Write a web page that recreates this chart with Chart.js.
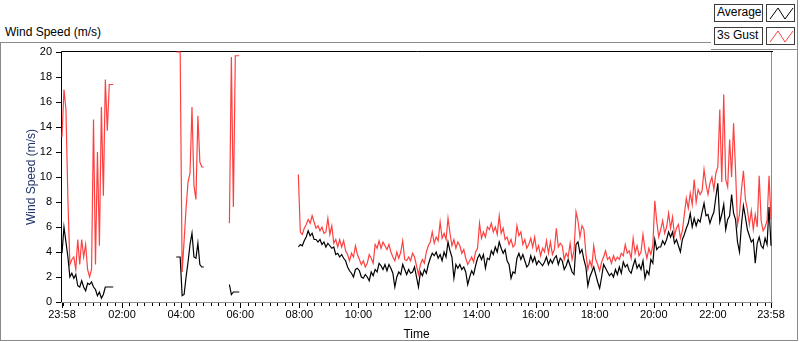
<!DOCTYPE html>
<html>
<head>
<meta charset="utf-8">
<title>Wind Speed (m/s)</title>
<script src="https://cdn.jsdelivr.net/npm/chart.js@4.4.1/dist/chart.umd.min.js"></script>
<style>
  body { margin: 0; background: #fff; font-family: "Liberation Sans", Arial, sans-serif; }
  #wrap { position: relative; width: 800px; height: 342px; overflow: hidden; }
  #frame { position: absolute; left: 0; top: 42px; width: 798px; height: 299px; border: 1px solid #8a8a8a; box-sizing: border-box; }
  #title { position: absolute; left: 5px; top: 25px; font-size: 12px; line-height: 14px; color: #000; }
  #chart { position: absolute; left: 0; top: 0; }
  #legend { position: absolute; left: 711px; top: 0; width: 87px; height: 50px; background: #fff;
            border-right: 1px solid #8a8a8a; border-bottom: 1px solid #8a8a8a; box-sizing: border-box; }
  .lbl, .sw { position: absolute; height: 18px; border: 1px solid #3c3c3c; box-sizing: border-box; background: #fff; }
  .lbl { left: 3px; width: 49px; font-size: 12px; line-height: 15px; padding-left: 2px; color: #000; }
  .sw { left: 55px; width: 29px; }
  .sw svg { display: block; }
</style>
</head>
<body>
<div id="wrap">
  <div id="frame"></div>
  <div id="title">Wind Speed (m/s)</div>
  <canvas id="chart" width="800" height="342"></canvas>
  <div id="legend">
    <div class="lbl" style="top:4px">Average</div>
    <div class="sw" style="top:4px"><svg width="27" height="16"><polyline points="3,14 11,3 18,14 26,3" fill="none" stroke="#000" stroke-width="1"/></svg></div>
    <div class="lbl" style="top:27px">3s Gust</div>
    <div class="sw" style="top:27px"><svg width="27" height="16"><polyline points="3,14 11,3 18,14 26,3" fill="none" stroke="#ff4040" stroke-width="1"/></svg></div>
  </div>
</div>
<script>
// minutes after 23:58 for the labelled ticks
var tickMinutes = [0, 122, 242, 362, 482, 602, 722, 842, 962, 1082, 1202, 1322, 1440];
var tickLabels = ["23:58", "02:00", "04:00", "06:00", "08:00", "10:00", "12:00",
                  "14:00", "16:00", "18:00", "20:00", "22:00", "23:58"];

// logger writes a sample every 4 minutes; the night runs have gaps between them
var sampleStep = 4;
var sampleCount = 361;
var runStarts = [0, 58, 85, 120];

var avgRun1 = [3.9, 6.0, 4.8, 3.6, 2.0, 2.3, 1.9, 2.2, 1.3, 1.2, 1.7, 1.2, 0.9, 1.5, 1.4, 1.6,
               1.2, 1.0, 0.5, 0.8, 0.3, 0.6, 1.2, 1.2, 1.2, 1.2, 1.2];
var avgRun2 = [3.6, 3.6, 3.6, 0.5, 0.6, 2.0, 3.2, 4.6, 5.5, 3.6, 3.5, 4.7, 3.0, 2.8, 2.8];
var avgRun3 = [1.4, 0.6, 0.8, 0.8, 0.8, 0.8];
var avgRun4 = [
  4.4, 4.6, 4.5, 4.9, 5.2, 5.7, 5.3, 5.5, 5.0, 5.0, 4.8, 5.0, 4.6, 4.8, 4.4, 4.7, 4.5, 4.3, 4.4, 3.8,
  3.9, 3.6, 3.8, 3.5, 3.3, 2.8, 2.5, 2.3, 2.0, 2.6, 2.7, 2.5, 2.0, 1.9, 2.2, 2.0, 1.7, 2.4, 2.1, 2.6,
  2.4, 3.1, 2.9, 2.6, 3.0, 2.5, 3.0, 2.7, 2.3, 1.2, 2.0, 2.4, 2.2, 3.0, 2.6, 2.2, 2.6, 2.3, 2.4, 2.8,
  2.0, 1.2,
  2.4, 2.1, 2.6, 2.3, 3.0, 3.5, 3.9, 3.7, 4.0, 3.5, 3.8, 3.3, 4.0, 3.6, 4.8, 4.1, 3.6, 1.9, 3.0, 2.7,
  3.0, 2.6, 2.8, 2.4, 1.4, 2.0, 2.5, 2.2, 2.9, 3.5, 3.8, 3.4, 3.8, 2.7, 3.5, 3.4, 4.1, 3.8, 4.4, 4.0,
  4.8, 4.3, 3.9, 4.2, 3.3, 3.0, 1.9, 2.4, 2.3, 3.5, 3.9, 3.4, 3.8, 3.3, 2.8, 3.0, 3.7, 3.2, 3.6, 3.0,
  3.3,
  3.1, 2.9, 3.2, 3.6, 3.0, 3.4, 3.1, 3.5, 3.7, 3.0, 3.5, 3.3, 2.6, 2.9, 3.4, 2.9, 2.4, 2.2, 4.6, 4.8,
  3.9, 4.2, 3.4, 2.8, 1.3, 2.0, 2.4, 2.8, 2.2, 1.6, 1.1, 2.0, 3.0, 2.7, 2.4, 2.1, 2.3, 2.0, 2.6, 2.2,
  2.8, 2.3, 3.2, 2.8, 3.0, 2.5, 2.3, 2.9, 3.4, 2.7, 3.0, 2.6, 3.3, 1.9, 2.5, 2.2, 3.4, 3.1, 5.0, 4.2,
  4.4,
  4.4, 4.9, 4.6, 5.0, 5.6, 5.2, 5.6, 4.7, 5.0, 4.5, 4.0, 5.0, 5.4, 5.9, 6.3, 7.1, 6.0, 6.7, 6.1, 6.6,
  6.4, 7.2, 7.9, 6.9, 7.0, 6.3, 6.8, 7.2, 8.4, 9.5, 6.4, 7.0, 7.8, 5.8, 6.6, 6.9, 8.6, 7.1, 6.6, 4.8,
  4.0, 6.2, 7.7, 6.8, 5.8, 5.3, 4.8, 5.0, 3.1, 4.7, 5.2, 4.5, 4.3, 5.1, 4.6, 7.6, 4.5
];

var gustRun1 = [13.2, 17.0, 15.4, 8.2, 3.0, 3.4, 3.6, 2.6, 5.0, 3.0, 5.0, 3.6, 4.6, 2.6, 2.0, 2.6,
                14.6, 3.0, 12.0, 4.5, 15.6, 8.5, 17.8, 13.7, 17.4, 17.4, 17.4];
var gustRun2 = [20, 20, 20, 2.4, 4.9, 7.5, 9.6, 10.3, 15.6, 9.3, 8.2, 14.9, 11.2, 10.8, 10.8];
var gustRun3 = [6.3, 19.6, 7.6, 19.7, 19.7, 19.7];
var gustRun4 = [
  10.2, 5.6, 5.4, 5.9, 6.2, 6.6, 6.3, 6.9, 6.4, 5.9, 6.1, 5.7, 6.0, 5.5, 5.6, 6.7, 5.4, 6.1, 4.7, 5.0,
  4.4, 5.0, 4.4, 4.9, 4.1, 3.8, 3.3, 3.9, 3.6, 4.5, 3.8, 3.4, 3.0, 3.3, 2.8, 3.1, 3.8, 3.5, 3.1, 4.6,
  4.3, 4.9, 4.3, 4.8, 4.5, 4.2, 4.6, 4.0, 3.6, 3.3, 4.0, 3.5, 4.0, 4.9, 3.4, 3.3, 3.6, 3.3, 3.9, 3.6,
  2.9, 2.2,
  3.0, 3.4, 3.1, 4.0, 4.5, 4.8, 5.6, 4.7, 5.2, 4.9, 6.4, 5.1, 5.5, 5.0, 6.7, 5.5, 4.5, 5.0, 4.3, 4.8,
  4.5, 3.9, 4.2, 3.5, 3.0, 3.3, 3.6, 3.2, 4.0, 4.3, 6.3, 5.1, 5.6, 5.2, 6.0, 5.8, 6.3, 5.6, 6.0, 5.4,
  6.9, 5.5, 5.9, 5.0, 5.2, 4.6, 5.0, 4.4, 4.6, 6.1, 5.3, 5.6, 4.6, 5.0, 4.3, 4.6, 5.1, 4.4, 5.2, 4.1,
  4.5,
  3.7, 4.3, 4.0, 4.9, 3.9, 4.8, 3.8, 4.2, 5.9, 4.4, 4.7, 4.5, 3.4, 3.9, 3.6, 4.7, 3.4, 4.1, 7.2, 6.5,
  5.2, 6.1, 5.8, 3.9, 2.6, 3.3, 2.8, 4.5, 3.4, 3.0, 2.5, 3.2, 3.6, 4.1, 3.4, 3.6, 3.1, 3.7, 3.3, 3.6,
  3.4, 3.9, 3.7, 4.6, 3.9, 4.1, 3.5, 5.1, 3.9, 4.5, 3.7, 4.0, 5.4, 4.2, 3.5, 4.3, 3.8, 4.5, 8.1, 6.4,
  5.2,
  5.8, 6.5, 5.5, 6.0, 7.1, 5.9, 6.8, 5.3, 5.9, 6.2, 5.1, 5.7, 7.0, 8.3, 7.5, 8.7, 7.8, 9.8, 8.0, 9.0,
  8.6, 8.9, 10.6, 9.4, 8.6, 9.5, 10.0, 9.0, 10.3, 10.8, 15.4, 9.6, 16.6, 9.8, 9.2, 13.0, 10.0, 14.3, 10.5, 6.2,
  7.0, 9.0, 10.5, 8.2, 7.4, 6.2, 7.3, 5.8, 7.0, 6.0, 10.1, 6.5, 5.7, 6.0, 6.5, 10.1, 6.6
];

var fontFamily = "'Liberation Sans', Arial, sans-serif";

var times = [];
for (var i = 0; i < sampleCount; i++) {
    times.push(i * sampleStep);
}

// put every run at its start index, null in between so the line breaks
function buildSeries(runs) {
    var out = [];
    for (var i = 0; i < sampleCount; i++) {
        out.push(null);
    }
    runs.forEach(function (run, r) {
        run.forEach(function (v, j) {
            out[runStarts[r] + j] = v;
        });
    });
    return out;
}

// sunken plot border and tick marks, LabVIEW style
var framePlugin = {
    id: "frame",
    beforeDatasetsDraw: function (chart) {
        var ctx = chart.ctx;
        var a = chart.chartArea;
        var x = chart.scales.x;
        var y = chart.scales.y;
        ctx.save();
        ctx.lineWidth = 1;

        ctx.strokeStyle = "#000";
        ctx.beginPath();
        ctx.moveTo(a.left - 0.5, a.bottom + 1);
        ctx.lineTo(a.left - 0.5, a.top - 0.5);
        ctx.lineTo(a.right + 2, a.top - 0.5);
        ctx.stroke();

        ctx.strokeStyle = "#8c8c8c";
        ctx.beginPath();
        ctx.moveTo(a.left - 1, a.bottom + 0.5);
        ctx.lineTo(a.right + 1.5, a.bottom + 0.5);
        ctx.moveTo(a.right + 0.5, a.top);
        ctx.lineTo(a.right + 0.5, a.bottom + 1);
        ctx.stroke();

        ctx.strokeStyle = "#000";
        ctx.beginPath();
        y.ticks.forEach(function (t) {
            var py = Math.round(y.getPixelForValue(t.value)) + 0.5;
            ctx.moveTo(a.left - 6, py);
            ctx.lineTo(a.left - 1, py);
        });
        for (var m = 2; m < 1440; m += 15) {
            var px = Math.round(x.getPixelForValue(m)) + 0.5;
            ctx.moveTo(px, a.bottom + 1);
            ctx.lineTo(px, a.bottom + 4);
        }
        tickMinutes.forEach(function (m) {
            var px = Math.round(x.getPixelForValue(m)) + 0.5;
            ctx.moveTo(px, a.bottom + 1);
            ctx.lineTo(px, a.bottom + 6);
        });
        ctx.stroke();
        ctx.restore();
    }
};

new Chart(document.getElementById("chart"), {
    type: "line",
    data: {
        labels: times,
        datasets: [{
            label: "Average",
            data: buildSeries([avgRun1, avgRun2, avgRun3, avgRun4]),
            borderColor: "#000000",
            borderWidth: 1.2,
            pointRadius: 0,
            tension: 0,
            spanGaps: false,
            clip: 3
        }, {
            label: "3s Gust",
            data: buildSeries([gustRun1, gustRun2, gustRun3, gustRun4]),
            borderColor: "#ff4040",
            borderWidth: 1.2,
            pointRadius: 0,
            tension: 0,
            spanGaps: false,
            clip: 3
        }]
    },
    options: {
        responsive: false,
        animation: false,
        devicePixelRatio: 1,
        layout: { padding: { top: 52, right: 29, bottom: 0, left: 0 } },
        plugins: {
            legend: { display: false },
            tooltip: { enabled: false }
        },
        scales: {
            x: {
                type: "linear",
                min: 0,
                max: 1440,
                grid: { drawOnChartArea: false, drawTicks: false },
                border: { display: false },
                afterBuildTicks: function (scale) {
                    scale.ticks = tickMinutes.map(function (v) { return { value: v }; });
                },
                afterFit: function (scale) { scale.height = 40; },
                ticks: {
                    autoSkip: false,
                    maxRotation: 0,
                    padding: 6,
                    color: "#000",
                    font: { family: fontFamily, size: 11 },
                    callback: function (v) { return tickLabels[tickMinutes.indexOf(v)]; }
                },
                title: {
                    display: true,
                    text: "Time",
                    color: "#000",
                    font: { family: fontFamily, size: 12 },
                    padding: { top: 0, bottom: 0 }
                }
            },
            y: {
                min: 0,
                max: 20,
                grid: { drawOnChartArea: false, drawTicks: false },
                border: { display: false },
                afterFit: function (scale) { scale.width = 62; },
                ticks: {
                    stepSize: 2,
                    padding: 10,
                    color: "#000",
                    font: { family: fontFamily, size: 11 }
                },
                title: {
                    display: true,
                    text: "Wind Speed (m/s)",
                    color: "#22336a",
                    font: { family: fontFamily, size: 12 },
                    padding: { top: 24, bottom: 0 }
                }
            }
        }
    },
    plugins: [framePlugin]
});
</script>
</body>
</html>
